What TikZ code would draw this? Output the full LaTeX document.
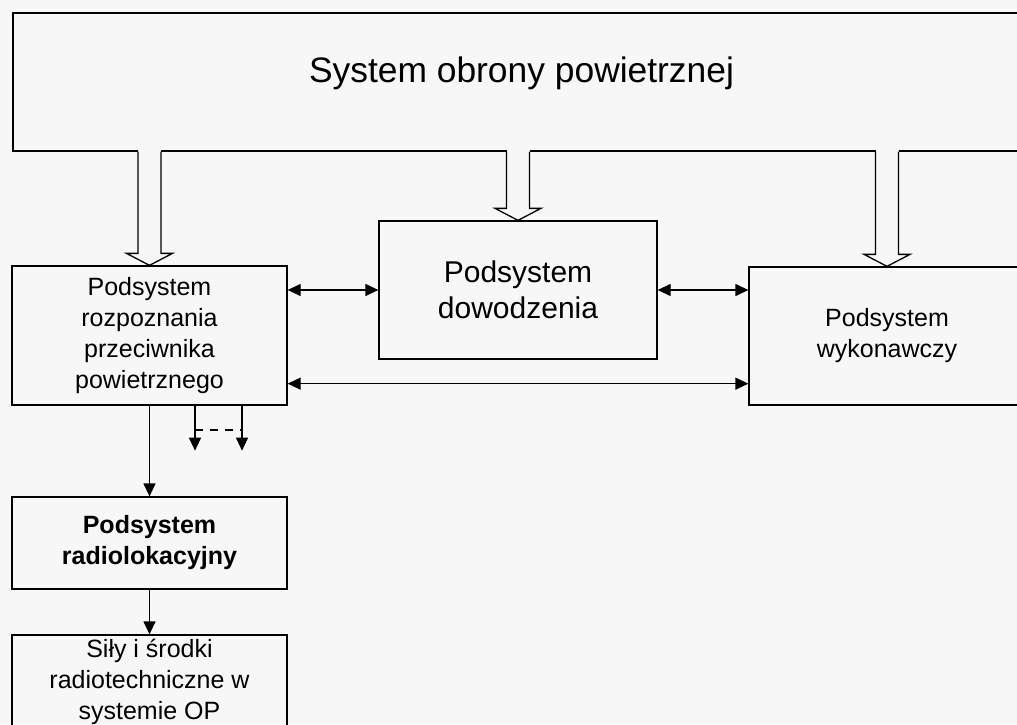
\documentclass[tikz,border=0pt]{standalone}
\usepackage{fontspec}
\setmainfont{Liberation Sans}
\usetikzlibrary{arrows.meta,calc,positioning}
\definecolor{paper}{RGB}{247,247,247}

\newcommand{\boxfont}{\fontsize{12.5pt}{15.5pt}\selectfont}
% wide hollow arrow from the top box down to a subsystem
\newcommand{\wideArrow}[1]{%
  \fill[paper] let \p1=(sop.south -| #1.north) in
    (\x1-5.75pt,\y1+0.6pt) rectangle (\x1+5.75pt,\y1-0.6pt);
  \filldraw[fill=paper, line width=0.65pt] let \p1=(sop.south -| #1.north), \p2=(#1.north) in
    (\x1-5.75pt,\y1) -- (\x1-5.75pt,\y2+6pt) -- (\x1-11.5pt,\y2+6pt) -- (\x2,\y2)
    -- (\x1+11.5pt,\y2+6pt) -- (\x1+5.75pt,\y2+6pt) -- (\x1+5.75pt,\y1);
}

\begin{document}
\begin{tikzpicture}[x=0.5pt, y=-0.5pt,
    box/.style={draw, line width=0.65pt, align=center, inner sep=0pt},
    onearrow/.style={-{Triangle[length=6.5pt,width=6pt]}, line width=0.65pt},
    twoarrow/.style={{Triangle[length=6.5pt,width=6pt]}-{Triangle[length=6.5pt,width=6pt]}, line width=0.65pt}]

\useasboundingbox[fill=paper] (0,0) rectangle (1017,724);

% Top system box
\node[box, minimum width=508.5pt, minimum height=69pt, font=\fontsize{17.7pt}{21pt}\selectfont,
      text height=12pt, text depth=12pt] (sop) at (521.5,82) {System obrony powietrznej};

% Subsystems
\node[box, font=\boxfont, minimum width=137.5pt, minimum height=69.5pt] (rozp) at (149.5,335.5)
    {Podsystem\\rozpoznania\\przeciwnika\\powietrznego};
\node[box, font=\fontsize{15pt}{18pt}\selectfont, minimum width=139pt, minimum height=69pt] (dow) at (518,290)
    {Podsystem\\dowodzenia};
\node[box, font=\boxfont, minimum width=138pt, minimum height=69pt] (wyk) at (887,336)
    {Podsystem\\wykonawczy};
\node[box, font=\boxfont\bfseries, minimum width=137.5pt, minimum height=46pt] (radio) at (149.5,543)
    {Podsystem\\radiolokacyjny};
\node[box, font=\boxfont, minimum width=137.5pt, minimum height=47pt] (sily) at (149.5,682)
    {Siły i środki\\radiotechniczne w\\systemie OP};

% Hollow arrows from the system
\wideArrow{rozp}
\wideArrow{dow}
\wideArrow{wyk}

% Links between subsystems
\draw[twoarrow] (rozp.east |- dow.west) -- (dow.west);
\draw[twoarrow] (dow.east) -- (dow.east -| wyk.west);
\coordinate (low) at ($(rozp.south east)+(0,-22)$);
\draw[twoarrow] (low) -- (low -| wyk.west);

% Downward links
\draw[onearrow] (rozp.south) -- (radio.north);
\draw[onearrow] (radio.south) -- (sily.north);
\coordinate (brA) at ($(rozp.south)+(45.5,0)$);
\coordinate (brB) at ($(rozp.south)+(92.5,0)$);
\coordinate (brAend) at ($(brA)+(0,45)$);
\coordinate (brBend) at ($(brB)+(0,45)$);
\draw[onearrow] (brA) -- (brAend);
\draw[onearrow] (brB) -- (brBend);
\draw[line width=1pt, dash pattern=on 4pt off 3.5pt] ($(brA)+(0,24)$) -- ($(brB)+(0,24)$);

\end{tikzpicture}
\end{document}
